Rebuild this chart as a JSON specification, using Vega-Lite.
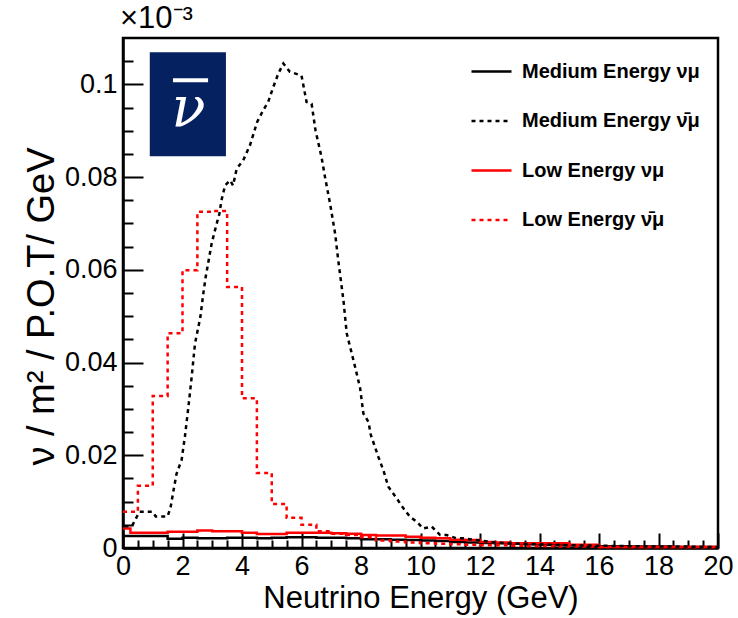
{
  "$schema": "https://vega.github.io/schema/vega-lite/v6.json",
  "width": 595,
  "height": 510,
  "autosize": "none",
  "padding": {"left": 123, "top": 38, "right": 20, "bottom": 70},
  "background": "white",
  "title": {"text": "×10⁻³", "anchor": "start", "frame": "group", "fontSize": 31, "font": "Liberation Sans", "fontWeight": "normal", "color": "black", "offset": 3, "dx": -3},
  "config": {
    "font": "Liberation Sans",
    "view": {"stroke": "black", "strokeWidth": 2.5},
    "axis": {"grid": false, "domainColor": "black", "domainWidth": 2.5, "tickColor": "black", "tickWidth": 2, "labelColor": "black", "titleColor": "black", "labelFont": "Liberation Sans", "titleFont": "Liberation Sans", "labelFlush": false, "labelOverlap": false, "titleFontWeight": "normal"},
    "legend": {"orient": "none", "legendX": 347, "legendY": 12, "padding": 0, "symbolType": "stroke", "symbolSize": 1600, "symbolStrokeWidth": 2.5, "labelFontSize": 20, "labelFont": "Liberation Sans", "labelFontWeight": "bold", "labelColor": "black", "labelOffset": 9, "rowPadding": 17.5, "labelLimit": 300}
  },
  "datasets": {
    "hist": [
      {"series": "Medium Energy  νμ", "E": 0, "v": 0.0026},
      {"series": "Medium Energy  νμ", "E": 0.5, "v": 0.0026},
      {"series": "Medium Energy  νμ", "E": 1.0, "v": 0.0026},
      {"series": "Medium Energy  νμ", "E": 1.5, "v": 0.002},
      {"series": "Medium Energy  νμ", "E": 2.0, "v": 0.0022},
      {"series": "Medium Energy  νμ", "E": 2.5, "v": 0.0021},
      {"series": "Medium Energy  νμ", "E": 3.0, "v": 0.0021},
      {"series": "Medium Energy  νμ", "E": 3.5, "v": 0.0022},
      {"series": "Medium Energy  νμ", "E": 4.0, "v": 0.0022},
      {"series": "Medium Energy  νμ", "E": 4.5, "v": 0.0021},
      {"series": "Medium Energy  νμ", "E": 5.0, "v": 0.0022},
      {"series": "Medium Energy  νμ", "E": 5.5, "v": 0.0023},
      {"series": "Medium Energy  νμ", "E": 6.0, "v": 0.0023},
      {"series": "Medium Energy  νμ", "E": 6.5, "v": 0.0022},
      {"series": "Medium Energy  νμ", "E": 7.0, "v": 0.0022},
      {"series": "Medium Energy  νμ", "E": 7.5, "v": 0.0021},
      {"series": "Medium Energy  νμ", "E": 8.0, "v": 0.0019},
      {"series": "Medium Energy  νμ", "E": 8.5, "v": 0.0019},
      {"series": "Medium Energy  νμ", "E": 9.0, "v": 0.0018},
      {"series": "Medium Energy  νμ", "E": 9.5, "v": 0.0017},
      {"series": "Medium Energy  νμ", "E": 10.0, "v": 0.0016},
      {"series": "Medium Energy  νμ", "E": 10.5, "v": 0.0015},
      {"series": "Medium Energy  νμ", "E": 11.0, "v": 0.0013},
      {"series": "Medium Energy  νμ", "E": 11.5, "v": 0.0012},
      {"series": "Medium Energy  νμ", "E": 12.0, "v": 0.0011},
      {"series": "Medium Energy  νμ", "E": 12.5, "v": 0.001},
      {"series": "Medium Energy  νμ", "E": 13.0, "v": 0.0009},
      {"series": "Medium Energy  νμ", "E": 13.5, "v": 0.0008},
      {"series": "Medium Energy  νμ", "E": 14.0, "v": 0.0007},
      {"series": "Medium Energy  νμ", "E": 14.5, "v": 0.0006},
      {"series": "Medium Energy  νμ", "E": 15.0, "v": 0.0006},
      {"series": "Medium Energy  νμ", "E": 15.5, "v": 0.0005},
      {"series": "Medium Energy  νμ", "E": 16.0, "v": 0.0004},
      {"series": "Medium Energy  νμ", "E": 16.5, "v": 0.0004},
      {"series": "Medium Energy  νμ", "E": 17.0, "v": 0.0003},
      {"series": "Medium Energy  νμ", "E": 17.5, "v": 0.0003},
      {"series": "Medium Energy  νμ", "E": 18.0, "v": 0.0003},
      {"series": "Medium Energy  νμ", "E": 18.5, "v": 0.0002},
      {"series": "Medium Energy  νμ", "E": 19.0, "v": 0.0002},
      {"series": "Medium Energy  νμ", "E": 19.5, "v": 0.0002},
      {"series": "Medium Energy  νμ", "E": 20.0, "v": 0.0002},

      {"series": "Low Energy  νμ", "E": 0, "v": 0.0042},
      {"series": "Low Energy  νμ", "E": 0.25, "v": 0.0033},
      {"series": "Low Energy  νμ", "E": 0.5, "v": 0.0033},
      {"series": "Low Energy  νμ", "E": 1.0, "v": 0.0033},
      {"series": "Low Energy  νμ", "E": 1.5, "v": 0.0035},
      {"series": "Low Energy  νμ", "E": 2.0, "v": 0.0035},
      {"series": "Low Energy  νμ", "E": 2.5, "v": 0.0038},
      {"series": "Low Energy  νμ", "E": 3.0, "v": 0.0036},
      {"series": "Low Energy  νμ", "E": 3.5, "v": 0.0036},
      {"series": "Low Energy  νμ", "E": 4.0, "v": 0.0033},
      {"series": "Low Energy  νμ", "E": 4.5, "v": 0.003},
      {"series": "Low Energy  νμ", "E": 5.0, "v": 0.003},
      {"series": "Low Energy  νμ", "E": 5.5, "v": 0.0033},
      {"series": "Low Energy  νμ", "E": 6.0, "v": 0.0033},
      {"series": "Low Energy  νμ", "E": 6.5, "v": 0.0033},
      {"series": "Low Energy  νμ", "E": 7.0, "v": 0.0032},
      {"series": "Low Energy  νμ", "E": 7.5, "v": 0.0031},
      {"series": "Low Energy  νμ", "E": 8.0, "v": 0.0028},
      {"series": "Low Energy  νμ", "E": 8.5, "v": 0.0027},
      {"series": "Low Energy  νμ", "E": 9.0, "v": 0.0027},
      {"series": "Low Energy  νμ", "E": 9.5, "v": 0.0024},
      {"series": "Low Energy  νμ", "E": 10.0, "v": 0.0022},
      {"series": "Low Energy  νμ", "E": 10.5, "v": 0.0021},
      {"series": "Low Energy  νμ", "E": 11.0, "v": 0.0018},
      {"series": "Low Energy  νμ", "E": 11.5, "v": 0.0017},
      {"series": "Low Energy  νμ", "E": 12.0, "v": 0.0013},
      {"series": "Low Energy  νμ", "E": 12.5, "v": 0.0012},
      {"series": "Low Energy  νμ", "E": 13.0, "v": 0.001},
      {"series": "Low Energy  νμ", "E": 13.5, "v": 0.001},
      {"series": "Low Energy  νμ", "E": 14.0, "v": 0.001},
      {"series": "Low Energy  νμ", "E": 14.5, "v": 0.001},
      {"series": "Low Energy  νμ", "E": 15.0, "v": 0.0007},
      {"series": "Low Energy  νμ", "E": 15.5, "v": 0.0007},
      {"series": "Low Energy  νμ", "E": 16.0, "v": 0.0002},
      {"series": "Low Energy  νμ", "E": 17.0, "v": 0.0002},
      {"series": "Low Energy  νμ", "E": 18.0, "v": 0.0002},
      {"series": "Low Energy  νμ", "E": 19.0, "v": 0.0002},
      {"series": "Low Energy  νμ", "E": 20.0, "v": 0.0002},

      {"series": "Low Energy  ν̄μ", "E": 0, "v": 0.0078},
      {"series": "Low Energy  ν̄μ", "E": 0.5, "v": 0.0134},
      {"series": "Low Energy  ν̄μ", "E": 1.0, "v": 0.0328},
      {"series": "Low Energy  ν̄μ", "E": 1.5, "v": 0.0463},
      {"series": "Low Energy  ν̄μ", "E": 2.0, "v": 0.0599},
      {"series": "Low Energy  ν̄μ", "E": 2.5, "v": 0.0725},
      {"series": "Low Energy  ν̄μ", "E": 3.0, "v": 0.0727},
      {"series": "Low Energy  ν̄μ", "E": 3.5, "v": 0.0563},
      {"series": "Low Energy  ν̄μ", "E": 4.0, "v": 0.0323},
      {"series": "Low Energy  ν̄μ", "E": 4.5, "v": 0.0162},
      {"series": "Low Energy  ν̄μ", "E": 5.0, "v": 0.0095},
      {"series": "Low Energy  ν̄μ", "E": 5.5, "v": 0.0065},
      {"series": "Low Energy  ν̄μ", "E": 6.0, "v": 0.005},
      {"series": "Low Energy  ν̄μ", "E": 6.5, "v": 0.0036},
      {"series": "Low Energy  ν̄μ", "E": 7.0, "v": 0.0031},
      {"series": "Low Energy  ν̄μ", "E": 7.5, "v": 0.0028},
      {"series": "Low Energy  ν̄μ", "E": 8.0, "v": 0.0023},
      {"series": "Low Energy  ν̄μ", "E": 8.5, "v": 0.0016},
      {"series": "Low Energy  ν̄μ", "E": 9.0, "v": 0.0014},
      {"series": "Low Energy  ν̄μ", "E": 9.5, "v": 0.0012},
      {"series": "Low Energy  ν̄μ", "E": 10.0, "v": 0.001},
      {"series": "Low Energy  ν̄μ", "E": 10.5, "v": 0.0009},
      {"series": "Low Energy  ν̄μ", "E": 11.0, "v": 0.0008},
      {"series": "Low Energy  ν̄μ", "E": 11.5, "v": 0.0007},
      {"series": "Low Energy  ν̄μ", "E": 12.0, "v": 0.0006},
      {"series": "Low Energy  ν̄μ", "E": 12.5, "v": 0.0006},
      {"series": "Low Energy  ν̄μ", "E": 13.0, "v": 0.0005},
      {"series": "Low Energy  ν̄μ", "E": 13.5, "v": 0.0004},
      {"series": "Low Energy  ν̄μ", "E": 14.0, "v": 0.0004},
      {"series": "Low Energy  ν̄μ", "E": 14.5, "v": 0.0003},
      {"series": "Low Energy  ν̄μ", "E": 15.0, "v": 0.0003},
      {"series": "Low Energy  ν̄μ", "E": 16.0, "v": 0.0002},
      {"series": "Low Energy  ν̄μ", "E": 17.0, "v": 0.0002},
      {"series": "Low Energy  ν̄μ", "E": 18.0, "v": 0.0002},
      {"series": "Low Energy  ν̄μ", "E": 19.0, "v": 0.0002},
      {"series": "Low Energy  ν̄μ", "E": 20.0, "v": 0.0002}
    ],
    "meanti": [
      {"series": "Medium Energy  ν̄μ", "E": 0.05, "v": 0.0047},
      {"series": "Medium Energy  ν̄μ", "E": 0.3, "v": 0.0047},
      {"series": "Medium Energy  ν̄μ", "E": 0.55, "v": 0.0078},
      {"series": "Medium Energy  ν̄μ", "E": 1.0, "v": 0.0078},
      {"series": "Medium Energy  ν̄μ", "E": 1.1, "v": 0.0068},
      {"series": "Medium Energy  ν̄μ", "E": 1.5, "v": 0.0068},
      {"series": "Medium Energy  ν̄μ", "E": 1.6, "v": 0.0088},
      {"series": "Medium Energy  ν̄μ", "E": 1.7, "v": 0.0125},
      {"series": "Medium Energy  ν̄μ", "E": 1.8, "v": 0.016},
      {"series": "Medium Energy  ν̄μ", "E": 1.97, "v": 0.019},
      {"series": "Medium Energy  ν̄μ", "E": 2.08, "v": 0.024},
      {"series": "Medium Energy  ν̄μ", "E": 2.2, "v": 0.0305},
      {"series": "Medium Energy  ν̄μ", "E": 2.31, "v": 0.037},
      {"series": "Medium Energy  ν̄μ", "E": 2.42, "v": 0.0441},
      {"series": "Medium Energy  ν̄μ", "E": 2.6, "v": 0.0498},
      {"series": "Medium Energy  ν̄μ", "E": 2.7, "v": 0.0549},
      {"series": "Medium Energy  ν̄μ", "E": 2.78, "v": 0.0585},
      {"series": "Medium Energy  ν̄μ", "E": 2.87, "v": 0.0617},
      {"series": "Medium Energy  ν̄μ", "E": 2.98, "v": 0.0657},
      {"series": "Medium Energy  ν̄μ", "E": 3.13, "v": 0.0695},
      {"series": "Medium Energy  ν̄μ", "E": 3.24, "v": 0.0721},
      {"series": "Medium Energy  ν̄μ", "E": 3.31, "v": 0.075},
      {"series": "Medium Energy  ν̄μ", "E": 3.43, "v": 0.0782},
      {"series": "Medium Energy  ν̄μ", "E": 3.6, "v": 0.0793},
      {"series": "Medium Energy  ν̄μ", "E": 3.7, "v": 0.0782},
      {"series": "Medium Energy  ν̄μ", "E": 3.82, "v": 0.0818},
      {"series": "Medium Energy  ν̄μ", "E": 4.04, "v": 0.0836},
      {"series": "Medium Energy  ν̄μ", "E": 4.27, "v": 0.0869},
      {"series": "Medium Energy  ν̄μ", "E": 4.51, "v": 0.0919},
      {"series": "Medium Energy  ν̄μ", "E": 4.71, "v": 0.0944},
      {"series": "Medium Energy  ν̄μ", "E": 4.88, "v": 0.0962},
      {"series": "Medium Energy  ν̄μ", "E": 5.05, "v": 0.0994},
      {"series": "Medium Energy  ν̄μ", "E": 5.22, "v": 0.1023},
      {"series": "Medium Energy  ν̄μ", "E": 5.39, "v": 0.1045},
      {"series": "Medium Energy  ν̄μ", "E": 5.61, "v": 0.1027},
      {"series": "Medium Energy  ν̄μ", "E": 6.0, "v": 0.1019},
      {"series": "Medium Energy  ν̄μ", "E": 6.17, "v": 0.0962},
      {"series": "Medium Energy  ν̄μ", "E": 6.34, "v": 0.0958},
      {"series": "Medium Energy  ν̄μ", "E": 6.47, "v": 0.0901},
      {"series": "Medium Energy  ν̄μ", "E": 6.67, "v": 0.0844},
      {"series": "Medium Energy  ν̄μ", "E": 6.79, "v": 0.08},
      {"series": "Medium Energy  ν̄μ", "E": 6.96, "v": 0.0743},
      {"series": "Medium Energy  ν̄μ", "E": 7.13, "v": 0.0678},
      {"series": "Medium Energy  ν̄μ", "E": 7.24, "v": 0.0618},
      {"series": "Medium Energy  ν̄μ", "E": 7.41, "v": 0.0534},
      {"series": "Medium Energy  ν̄μ", "E": 7.52, "v": 0.0463},
      {"series": "Medium Energy  ν̄μ", "E": 7.8, "v": 0.0391},
      {"series": "Medium Energy  ν̄μ", "E": 7.97, "v": 0.0345},
      {"series": "Medium Energy  ν̄μ", "E": 8.08, "v": 0.029},
      {"series": "Medium Energy  ν̄μ", "E": 8.25, "v": 0.0272},
      {"series": "Medium Energy  ν̄μ", "E": 8.33, "v": 0.0244},
      {"series": "Medium Energy  ν̄μ", "E": 8.47, "v": 0.0218},
      {"series": "Medium Energy  ν̄μ", "E": 8.58, "v": 0.0197},
      {"series": "Medium Energy  ν̄μ", "E": 8.75, "v": 0.0168},
      {"series": "Medium Energy  ν̄μ", "E": 8.92, "v": 0.0132},
      {"series": "Medium Energy  ν̄μ", "E": 9.2, "v": 0.0107},
      {"series": "Medium Energy  ν̄μ", "E": 9.42, "v": 0.0086},
      {"series": "Medium Energy  ν̄μ", "E": 9.65, "v": 0.0067},
      {"series": "Medium Energy  ν̄μ", "E": 9.87, "v": 0.0057},
      {"series": "Medium Energy  ν̄μ", "E": 10.09, "v": 0.0042},
      {"series": "Medium Energy  ν̄μ", "E": 10.38, "v": 0.0046},
      {"series": "Medium Energy  ν̄μ", "E": 10.66, "v": 0.0028},
      {"series": "Medium Energy  ν̄μ", "E": 10.88, "v": 0.0028},
      {"series": "Medium Energy  ν̄μ", "E": 11.2, "v": 0.0021},
      {"series": "Medium Energy  ν̄μ", "E": 11.44, "v": 0.0021},
      {"series": "Medium Energy  ν̄μ", "E": 12.0, "v": 0.0016},
      {"series": "Medium Energy  ν̄μ", "E": 12.5, "v": 0.0012},
      {"series": "Medium Energy  ν̄μ", "E": 13.0, "v": 0.001},
      {"series": "Medium Energy  ν̄μ", "E": 14.0, "v": 0.0008},
      {"series": "Medium Energy  ν̄μ", "E": 15.0, "v": 0.0006},
      {"series": "Medium Energy  ν̄μ", "E": 16.0, "v": 0.0005},
      {"series": "Medium Energy  ν̄μ", "E": 17.0, "v": 0.0004},
      {"series": "Medium Energy  ν̄μ", "E": 18.0, "v": 0.0003},
      {"series": "Medium Energy  ν̄μ", "E": 19.0, "v": 0.0003},
      {"series": "Medium Energy  ν̄μ", "E": 20.0, "v": 0.0002}
    ]
  },
  "layer": [
    {
      "data": {"name": "hist"},
      "mark": {"type": "point", "opacity": 0, "size": 1},
      "encoding": {
        "x": {"field": "E", "type": "quantitative", "scale": {"domain": [0, 20], "nice": false, "zero": false},
              "axis": {"orient": "bottom", "values": [0.5,1,1.5,2.5,3,3.5,4.5,5,5.5,6.5,7,7.5,8.5,9,9.5,10.5,11,11.5,12.5,13,13.5,14.5,15,15.5,16.5,17,17.5,18.5,19,19.5], "tickSize": -8, "labels": false, "domain": false, "title": null}},
        "y": {"field": "v", "type": "quantitative", "scale": {"domain": [0, 0.11], "nice": false},
              "axis": {"orient": "left", "values": [0.005,0.01,0.015,0.025,0.03,0.035,0.045,0.05,0.055,0.065,0.07,0.075,0.085,0.09,0.095,0.105], "tickSize": -10, "labels": false, "domain": false, "title": null}}
      }
    },
    {
      "data": {"name": "hist"},
      "mark": {"type": "line", "interpolate": "step-after", "strokeWidth": 2.5},
      "encoding": {
        "x": {"field": "E", "type": "quantitative", "scale": {"domain": [0, 20], "nice": false, "zero": false},
              "axis": {"orient": "bottom", "values": [0,2,4,6,8,10,12,14,16,18,20], "tickSize": -15, "labelFontSize": 27, "labelPadding": 20, "title": "Neutrino Energy (GeV)", "titleFontSize": 31, "titlePadding": 4}},
        "y": {"field": "v", "type": "quantitative", "scale": {"domain": [0, 0.11], "nice": false},
              "axis": {"orient": "left", "values": [0,0.02,0.04,0.06,0.08,0.1], "format": "~g", "tickSize": -20, "labelFontSize": 27, "labelPadding": 26, "title": "ν / m² / P.O.T/ GeV", "titleFontSize": 38, "titleX": -81, "titleY": 268, "titleBaseline": "middle"}},
        "color": {"field": "series", "type": "nominal", "title": null,
                  "scale": {"domain": ["Medium Energy  νμ", "Medium Energy  ν̄μ", "Low Energy  νμ", "Low Energy  ν̄μ"], "range": ["black", "black", "#ff0000", "#ff0000"]}},
        "strokeDash": {"field": "series", "type": "nominal", "title": null,
                  "scale": {"domain": ["Medium Energy  νμ", "Medium Energy  ν̄μ", "Low Energy  νμ", "Low Energy  ν̄μ"], "range": [[1, 0], [4, 4], [1, 0], [4, 4]]}}
      }
    },
    {
      "data": {"name": "meanti"},
      "mark": {"type": "line", "strokeWidth": 2.5},
      "encoding": {
        "x": {"field": "E", "type": "quantitative", "scale": {"domain": [0, 20], "nice": false, "zero": false}, "axis": null},
        "y": {"field": "v", "type": "quantitative", "scale": {"domain": [0, 0.11], "nice": false}, "axis": null},
        "color": {"field": "series", "type": "nominal", "title": null},
        "strokeDash": {"field": "series", "type": "nominal", "title": null}
      }
    },
    {
      "data": {"values": [{}]},
      "mark": {"type": "rect", "color": "#062160"},
      "encoding": {
        "x": {"datum": 0.9, "type": "quantitative", "scale": {"domain": [0, 20], "nice": false, "zero": false}, "axis": null},
        "x2": {"datum": 3.46},
        "y": {"datum": 0.1069, "type": "quantitative", "scale": {"domain": [0, 0.11], "nice": false}, "axis": null},
        "y2": {"datum": 0.0845}
      }
    },
    {
      "data": {"values": [{}]},
      "mark": {"type": "text", "text": "ν", "font": "DejaVu Serif", "fontStyle": "italic", "fontSize": 56, "color": "white", "align": "center", "baseline": "middle"},
      "encoding": {
        "x": {"datum": 2.2, "type": "quantitative", "scale": {"domain": [0, 20], "nice": false, "zero": false}, "axis": null},
        "y": {"datum": 0.0946, "type": "quantitative", "scale": {"domain": [0, 0.11], "nice": false}, "axis": null}
      }
    },
    {
      "data": {"values": [{}]},
      "mark": {"type": "rule", "color": "white", "strokeWidth": 4},
      "encoding": {
        "x": {"datum": 1.68, "type": "quantitative", "scale": {"domain": [0, 20], "nice": false, "zero": false}, "axis": null},
        "x2": {"datum": 2.86},
        "y": {"datum": 0.1009, "type": "quantitative", "scale": {"domain": [0, 0.11], "nice": false}, "axis": null}
      }
    }
  ],
  "resolve": {"axis": {"x": "independent", "y": "independent"}}
}
